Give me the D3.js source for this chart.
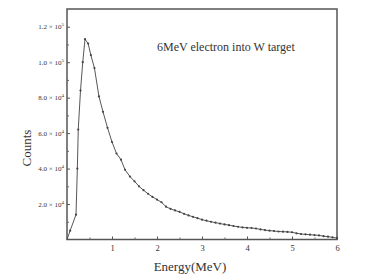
<!DOCTYPE html>
<html>
<head>
<meta charset="utf-8">
<script src="https://cdn.jsdelivr.net/npm/d3@7"></script>
<style>
  body { margin: 0; background: #fff; }
  text { font-family: "Liberation Serif", "DejaVu Serif", serif; fill: #333; }
</style>
</head>
<body>
<div id="chart"></div>
<script>
// energy (MeV) and counts
var energy = [0, 0.07, 0.2, 0.23, 0.25, 0.3, 0.35, 0.4, 0.47, 0.53, 0.61, 0.71,
  0.8, 0.9, 1.0, 1.1, 1.2, 1.29, 1.4, 1.5, 1.6, 1.7, 1.8, 1.9, 2.0,
  2.1, 2.2, 2.3, 2.4, 2.5, 2.6, 2.7, 2.8, 2.9, 3.0, 3.1, 3.2, 3.3, 3.4,
  3.5, 3.6, 3.7, 3.8, 3.9, 4.0, 4.1, 4.2, 4.3, 4.4, 4.5, 4.6, 4.7, 4.8,
  4.9, 5.0, 5.1, 5.2, 5.3, 5.4, 5.5, 5.6, 5.7, 5.8, 5.9, 6.0];
var counts = [0, 5000, 14000, 40000, 62000, 84000, 100000, 113000, 110500, 104000, 96700, 80700,
  72000, 63000, 55000, 48500, 45000, 39300, 35500, 32800, 30000, 27800, 25800, 24000, 22500,
  21000, 18500, 17300, 16400, 15600, 14500, 13600, 12800, 12000, 11200, 10600, 10000, 9500, 9000,
  8500, 8100, 7600, 7200, 6800, 6600, 6500, 6200, 5700, 5300, 5000, 4800, 4500, 4400,
  4300, 4100, 3500, 3100, 2900, 2700, 2500, 2300, 1900, 1600, 1200, 800];

var xTicks = [1, 2, 3, 4, 5, 6];
var yTicks = [20000, 40000, 60000, 80000, 100000, 120000];
var yMantissa = ["2.0", "4.0", "6.0", "8.0", "1.0", "1.2"];
var yExponent = ["4", "4", "4", "4", "5", "5"];
var title = "6MeV electron into W target";

var W = 382, H = 280;
var margin = { top: 9, right: 45, bottom: 41, left: 67 };

var svg = d3.select("#chart").append("svg")
    .attr("width", W)
    .attr("height", H);

var x = d3.scaleLinear().domain([0, 6]).range([margin.left, W - margin.right]);
var y = d3.scaleLinear().domain([0, 130000]).range([H - margin.bottom + 0.5, margin.top]);

var data = energy.map(function(e, i) { return { e: e, c: counts[i] }; });

// frame
svg.append("rect")
    .attr("x", margin.left)
    .attr("y", margin.top)
    .attr("width", x(6) - x(0))
    .attr("height", y(0) - margin.top)
    .attr("fill", "none")
    .attr("stroke", "#555")
    .attr("stroke-width", 1.5);

// x axis, ticks inward
var xAxis = svg.append("g")
    .attr("transform", "translate(0," + y(0) + ")")
    .call(d3.axisBottom(x).tickValues(xTicks).tickSize(-3).tickPadding(5).tickFormat(d3.format("d")));
xAxis.select(".domain").remove();
xAxis.selectAll("line").attr("stroke", "#555");
xAxis.selectAll("text").style("font-size", "8.5px").style("font-family", "Liberation Serif").style("fill", "#333");

svg.append("g")
    .attr("transform", "translate(0," + y(0) + ")")
    .call(d3.axisBottom(x).tickValues(d3.range(0.5, 6, 1)).tickSize(-2).tickFormat(""))
    .call(function(g) { g.select(".domain").remove(); g.selectAll("line").attr("stroke", "#666"); });

// y axis, ticks inward
var yAxis = svg.append("g")
    .attr("transform", "translate(" + x(0) + ",0)")
    .call(d3.axisLeft(y).tickValues(yTicks).tickSize(-3).tickFormat(""));
yAxis.select(".domain").remove();
yAxis.selectAll("line").attr("stroke", "#555");

svg.append("g")
    .attr("transform", "translate(" + x(0) + ",0)")
    .call(d3.axisLeft(y).tickValues(d3.range(10000, 130000, 20000)).tickSize(-2).tickFormat(""))
    .call(function(g) { g.select(".domain").remove(); g.selectAll("line").attr("stroke", "#666"); });

var yl = svg.append("g").selectAll("text")
    .data(yTicks)
    .enter().append("text")
    .attr("x", x(0) - 3)
    .attr("y", function(d) { return y(d) + 2.5; })
    .attr("text-anchor", "end")
    .style("font-size", "7px");
yl.append("tspan").text(function(d, i) { return yMantissa[i] + " \u00d7 10"; });
yl.append("tspan")
    .attr("dy", -3)
    .style("font-size", "5px")
    .text(function(d, i) { return yExponent[i]; });

// curve
svg.append("path")
    .datum(data)
    .attr("fill", "none")
    .attr("stroke", "#444")
    .attr("stroke-width", 0.9)
    .attr("d", d3.line().x(function(d) { return x(d.e); }).y(function(d) { return y(d.c); }));

svg.append("g").selectAll("circle")
    .data(data.slice(1))
    .enter().append("circle")
    .attr("cx", function(d) { return x(d.e); })
    .attr("cy", function(d) { return y(d.c); })
    .attr("r", 1.1)
    .attr("fill", "#444");

// labels
svg.append("text")
    .attr("x", 157)
    .attr("y", 51)
    .style("font-size", "12px")
    .text(title);

svg.append("text")
    .attr("x", 190)
    .attr("y", 271)
    .attr("text-anchor", "middle")
    .style("font-size", "13px")
    .text("Energy(MeV)");

svg.append("text")
    .attr("transform", "translate(31," + 148 + ") rotate(-90)")
    .attr("text-anchor", "middle")
    .style("font-size", "13px")
    .text("Counts");
</script>
</body>
</html>
